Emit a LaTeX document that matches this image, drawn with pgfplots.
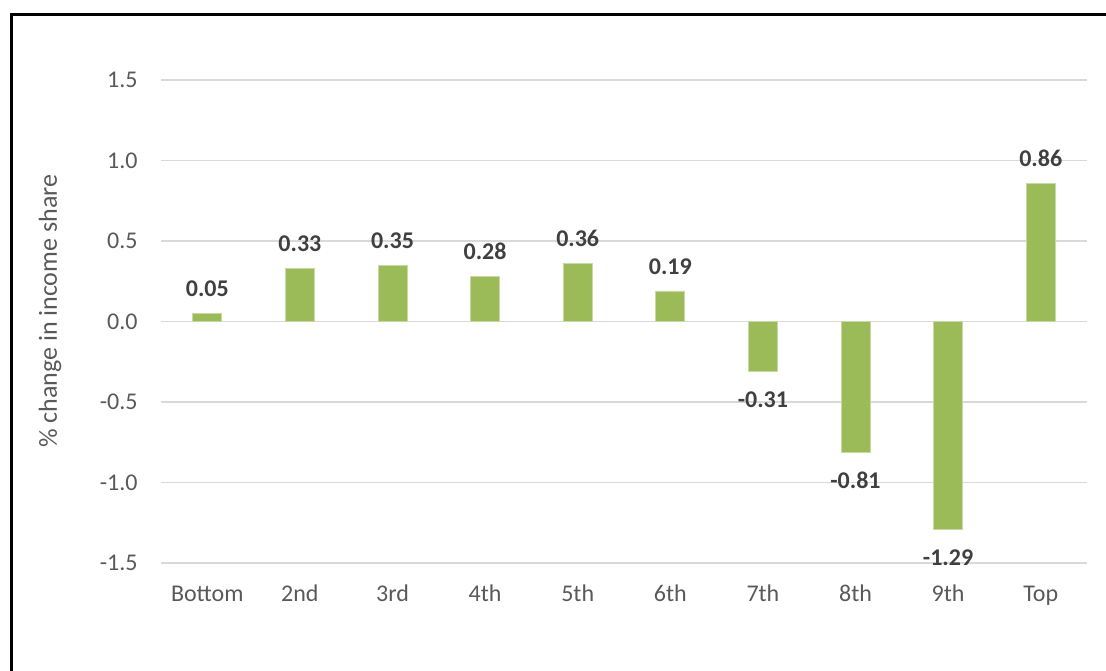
\documentclass[border=0pt]{standalone}
\usepackage{pgfplots}
\pgfplotsset{compat=1.18}
\usepackage{fontspec}
\setmainfont{Carlito}
\definecolor{barG}{HTML}{9BBB59}
\definecolor{gridG}{HTML}{D9D9D9}
\definecolor{tickG}{HTML}{595959}
\definecolor{lblG}{HTML}{404040}
\begin{document}
\begin{tikzpicture}
\useasboundingbox (0pt,0pt) rectangle (553pt,-335pt);
\begin{scope}
\clip (0pt,0pt) rectangle (553pt,-335pt);
\draw[line width=1.3pt] (5.75pt,-7.25pt) rectangle (570pt,-350pt);
\end{scope}
\begin{axis}[
  at={(80.5pt,-40pt)}, anchor=north west,
  scale only axis, width=463pt, height=241.5pt,
  xmin=-0.5, xmax=9.5, ymin=-1.5, ymax=1.5,
  ybar, bar width=14.5pt, bar shift=0pt,
  axis line style={draw=none},
  major tick length=0pt,
  ymajorgrids, major grid style={gridG, line width=0.8pt},
  xtick={0,...,9},
  xticklabels={Bottom,2nd,3rd,4th,5th,6th,7th,8th,9th,Top},
  ytick={-1.5,-1,-0.5,0,0.5,1,1.5},
  yticklabels={-1.5,-1.0,-0.5,0.0,0.5,1.0,1.5},
  yticklabel style={font=\fontsize{12}{14}\selectfont, text=tickG, anchor=east, inner sep=0pt, xshift=-11.5pt},
  xticklabel style={font=\fontsize{12}{14}\selectfont, text=tickG, anchor=base, yshift=-19.25pt},
  ylabel={\% change in income share},
  ylabel style={at={(axis description cs:-0.1199,0.521)}, anchor=center, font=\fontsize{13}{15}\selectfont, text=tickG},
  point meta=explicit symbolic,
  nodes near coords,
  every node near coord/.append style={font=\bfseries\fontsize{12}{14}\selectfont, text=lblG, inner sep=0pt},
]
\addplot[fill=barG, draw=barG!55!white, line width=0.4pt,
  every node near coord/.append style={anchor=south, yshift=8pt}] coordinates {
  (0,0.05) [0.05]
  (1,0.33) [0.33]
  (2,0.35) [0.35]
  (3,0.28) [0.28]
  (4,0.36) [0.36]
  (5,0.19) [0.19]
  (9,0.86) [0.86]
};
\addplot[fill=barG, draw=barG!55!white, line width=0.4pt,
  every node near coord/.append style={anchor=north, yshift=-10pt}] coordinates {
  (6,-0.31) [-0.31]
  (7,-0.81) [-0.81]
  (8,-1.29) [-1.29]
};
\end{axis}
\end{tikzpicture}
\end{document}
